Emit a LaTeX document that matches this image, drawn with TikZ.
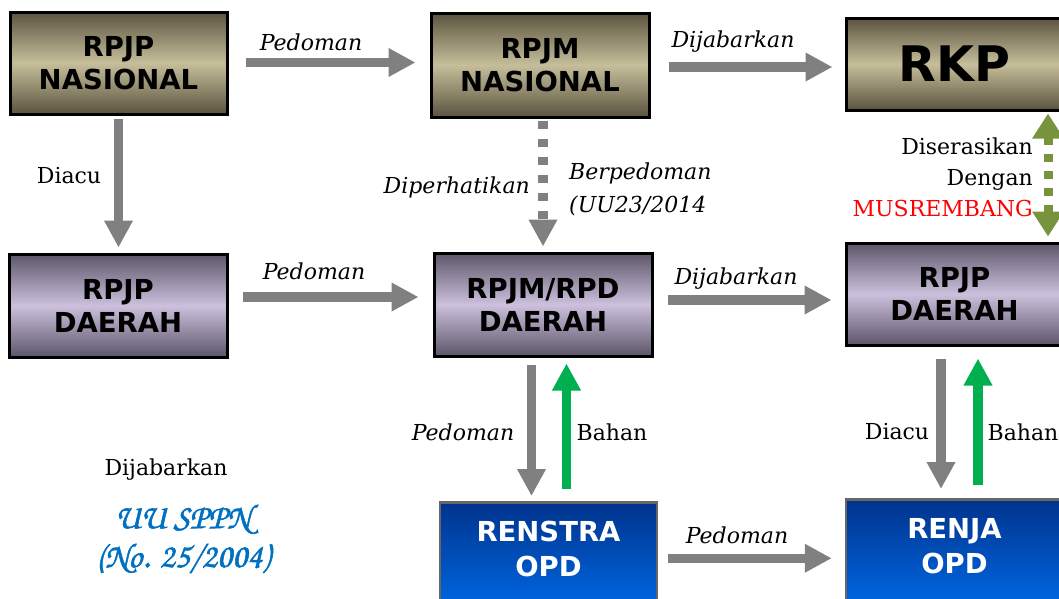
\documentclass[tikz,border=0pt]{standalone}
\usepackage{fontspec}
\setmainfont{DejaVu Serif}
\newfontfamily\boxf{DejaVu Sans}
\newfontfamily\chanc{texgyrechorus-mediumitalic}[Extension=.otf, FakeBold=1.6]
\usetikzlibrary{arrows.meta}
\definecolor{olD}{HTML}{5A5440}
\definecolor{olL}{HTML}{C6BE9A}
\definecolor{puD}{HTML}{5C566A}
\definecolor{puL}{HTML}{CCC0DC}
\definecolor{blT}{HTML}{00338C}
\definecolor{blB}{HTML}{0078FF}
\definecolor{agray}{HTML}{808080}
\definecolor{agreen}{HTML}{00B050}
\definecolor{ogreen}{HTML}{77933C}
\definecolor{uublue}{HTML}{0070C0}
\tikzset{
  boxbase/.style={rectangle, align=center, inner sep=0pt,
    font=\boxf\bfseries\fontsize{27.5}{33}\selectfont},
  olbox/.style={boxbase, draw=black, line width=3pt, top color=olD, bottom color=olD, middle color=olL},
  pubox/.style={boxbase, draw=black, line width=3pt, top color=puD, bottom color=puD, middle color=puL},
  blbox/.style={boxbase, draw=black!60, line width=2.5pt, top color=blT, bottom color=blB,
    minimum width=217pt, minimum height=140pt, anchor=north},
  wlbl/.style={text=white, font=\boxf\bfseries\fontsize{27.5}{35}\selectfont, align=center},
  garr/.style={draw=agray, line width=9.5pt, -{Triangle[width=27pt,length=27pt]}},
  grarr/.style={draw=agreen, line width=9.5pt, -{Triangle[width=27pt,length=27pt]}},
  lab/.style={font=\fontsize{22}{31}\selectfont, inner sep=0pt},
  ilab/.style={font=\itshape\fontsize{22}{33}\selectfont, inner sep=0pt},
}
\begin{document}
\begin{tikzpicture}[x=1pt,y=-1pt]
\useasboundingbox (0,0) rectangle (1059,598);
\clip (0,0) rectangle (1059,598);
% boxes
\node[olbox, minimum width=217pt, minimum height=102pt] (rpjpn) at (118.5,63) {RPJP\\NASIONAL};
\node[olbox, minimum width=218pt, minimum height=104pt] (rpjmn) at (540,65) {RPJM\\NASIONAL};
\node[olbox, minimum width=217pt, minimum height=92pt, font=\boxf\bfseries\fontsize{49}{50}\selectfont] (rkp) at (954.5,64) {RKP};
\node[pubox, minimum width=218pt, minimum height=103pt] (rpjpd) at (118,305.5) {RPJP\\DAERAH};
\node[pubox, minimum width=218pt, minimum height=103pt] (rpjmd) at (543,304.5) {RPJM/RPD\\DAERAH};
\node[pubox, minimum width=217pt, minimum height=102pt] (rpjpdr) at (954.5,294) {RPJP\\DAERAH};
\node[blbox, label={[wlbl, yshift=23pt]center:RENSTRA\\OPD}] (renstra) at (548.5,501) {};
\node[blbox, label={[wlbl, yshift=23pt]center:RENJA\\OPD}] (renja) at (954.5,498) {};
% arrows
\draw[garr, shorten <=17pt, shorten >=14pt] ([yshift=0.5pt]rpjpn.east) -- ([yshift=0.5pt]rpjpn.east -| rpjmn.west);
\draw[garr, shorten <=18pt, shorten >=12pt] ([yshift=-2pt]rpjmn.east) -- ([yshift=-2pt]rpjmn.east -| rkp.west);
\draw[garr, shorten <=3pt, shorten >=5pt] (rpjpn.south) -- (rpjpn.south |- rpjpd.north);
\draw[garr, dash pattern=on 8pt off 10pt, shorten <=2pt, shorten >=5pt] (rpjmd.north |- rpjmn.south) -- (rpjmd.north);
\draw[garr, shorten <=14pt, shorten >=14pt] ([yshift=8.5pt]rpjpd.east) -- ([yshift=8.5pt]rpjpd.east -| rpjmd.west);
\draw[garr, shorten <=14pt, shorten >=13pt] ([yshift=4.5pt]rpjmd.east) -- ([yshift=4.5pt]rpjmd.east -| rpjpdr.west);
\draw[garr, shorten <=7pt, shorten >=5pt] ([xshift=-11.5pt]rpjmd.south) -- ([xshift=-11.5pt]rpjmd.south |- renstra.north);
\draw[grarr, shorten <=12pt, shorten >=6pt] ([xshift=23.5pt]rpjmd.south |- renstra.north) -- ([xshift=23.5pt]rpjmd.south);
\draw[garr, shorten <=12pt, shorten >=9pt] ([xshift=-13.5pt]rpjpdr.south) -- ([xshift=-13.5pt]rpjpdr.south |- renja.north);
\draw[grarr, shorten <=13pt, shorten >=12pt] ([xshift=23.5pt]rpjpdr.south |- renja.north) -- ([xshift=23.5pt]rpjpdr.south);
\draw[draw=ogreen, line width=9pt, dash pattern=on 8pt off 9pt, {Triangle[width=30pt,length=25pt]}-{Triangle[width=30pt,length=25pt]}, shorten <=2pt, shorten >=5pt] ([xshift=93.5pt]rkp.south) -- ([xshift=93.5pt]rkp.south |- rpjpdr.north);
\draw[garr, shorten <=10pt, shorten >=13pt] ([yshift=14pt]renstra.east) -- ([yshift=14pt]renstra.east -| renja.west);
% labels
\node[ilab] (l1) at (311,42) {Pedoman};
\node[ilab] (l2) at (733,42) {Dijabarkan};
\node[lab] (l3) at (69,176) {Diacu};
\node[ilab, anchor=east] (l4) at (530,187) {Diperhatikan};
\node[ilab, anchor=west, align=left] (l5) at (569,189) {Berpedoman\\(UU23/2014};
\node[lab, anchor=east, align=right] (l6) at (1033,177) {Diserasikan\\Dengan\\\textcolor{red}{MUSREMBANG}};
\node[ilab] (l7) at (314,271) {Pedoman};
\node[ilab] (l8) at (736,279) {Dijabarkan};
\node[ilab] (l9) at (463,432) {Pedoman};
\node[lab] (l10) at (612,432) {Bahan};
\node[lab] (l11) at (897,432) {Diacu};
\node[lab] (l12) at (1023,432) {Bahan};
\node[lab] (l13) at (166,470) {Dijabarkan};
\node[text=uublue, align=center, inner sep=0pt, font=\chanc\fontsize{34.5}{39}\selectfont] (uu) at (183,539) {UU SPPN\\(No. 25/2004)};
\node[ilab] (l14) at (737,535) {Pedoman};
\end{tikzpicture}
\end{document}
